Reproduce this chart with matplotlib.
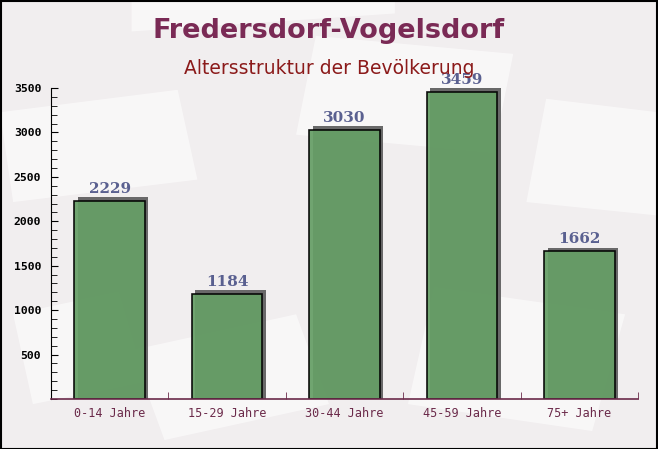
import matplotlib
matplotlib.use("Agg")
import matplotlib.pyplot as plt
from matplotlib.patches import Rectangle, Polygon
from matplotlib.ticker import MultipleLocator

# data
age_groups = ["0-14 Jahre", "15-29 Jahre", "30-44 Jahre", "45-59 Jahre", "75+ Jahre"]
population = [2229, 1184, 3030, 3459, 1662]

title = "Fredersdorf-Vogelsdorf"
subtitle = "Altersstruktur der Bevölkerung"

bg = "#f1eeef"
bar_green = "#669f66"
maroon = "#6b2a4a"

fig = plt.figure(figsize=(6.58, 4.49), dpi=100)
fig.patch.set_facecolor(bg)

# faint "envelope" shapes in the background
deco = [
    [(0.02, 0.55), (0.30, 0.60), (0.27, 0.80), (0.00, 0.75)],
    [(0.45, 0.70), (0.75, 0.66), (0.78, 0.88), (0.48, 0.92)],
    [(0.62, 0.10), (0.90, 0.04), (0.95, 0.30), (0.66, 0.36)],
    [(0.25, 0.02), (0.50, 0.10), (0.45, 0.30), (0.20, 0.22)],
    [(0.80, 0.55), (1.00, 0.52), (1.00, 0.75), (0.83, 0.78)],
    [(0.05, 0.10), (0.22, 0.15), (0.18, 0.35), (0.02, 0.30)],
    [(0.20, 0.93), (0.60, 0.97), (0.60, 1.00), (0.20, 1.00)],
]
for pts in deco:
    fig.patches.append(Polygon(pts, closed=True, transform=fig.transFigure,
                               facecolor="white", alpha=0.55, edgecolor="none", zorder=-5))

# outer frame
fig.patches.append(Rectangle((0.001, 0.001), 0.997, 0.997, transform=fig.transFigure,
                             fill=False, edgecolor="black", linewidth=1.5, zorder=10))

ax = fig.add_axes([51 / 658, 1 - 399 / 449, (638 - 51) / 658, (399 - 88) / 449])
ax.set_facecolor("none")

x = list(range(len(age_groups)))
width = 0.6

# shadow bars (offset a few pixels right/up)
dx = 3.5 / 117.4
dy = 3.5 * 3500 / 311
ax.bar([i + dx for i in x], [v + dy for v in population], width=width,
       color="#5a5a5a", alpha=0.9, zorder=1)
ax.bar(x, population, width=width, color=bar_green, alpha=0.93,
       edgecolor="black", linewidth=1.2, zorder=2)

for i, v in zip(x, population):
    ax.text(i, v + 55, str(v), ha="center", va="bottom", fontsize=11,
            fontweight="bold", family="DejaVu Serif", color="#5a6090", zorder=3)

ax.set_xlim(-0.5, len(age_groups) - 0.5)
ax.set_ylim(0, 3500)
ax.yaxis.set_major_locator(MultipleLocator(500))
ax.yaxis.set_minor_locator(MultipleLocator(100))
ax.set_yticks([500, 1000, 1500, 2000, 2500, 3000, 3500])

ax.set_xticks(x)
ax.set_xticklabels(age_groups, family="DejaVu Sans Mono", fontsize=8.5, color=maroon)
ax.set_xticks([i + 0.5 for i in x], minor=True)
ax.tick_params(axis="x", which="major", length=0, pad=6)
ax.tick_params(axis="x", which="minor", length=5, direction="in", color=maroon)
ax.tick_params(axis="y", which="major", length=5, direction="in", color="black",
               labelsize=8.2, pad=7)
ax.tick_params(axis="y", which="minor", length=4, direction="in", color="black")
for lab in ax.get_yticklabels():
    lab.set_family("DejaVu Sans Mono")
    lab.set_fontweight("bold")

for s in ["top", "right"]:
    ax.spines[s].set_visible(False)
ax.spines["left"].set_color("black")
ax.spines["bottom"].set_color(maroon)
ax.spines["bottom"].set_linewidth(1.2)

fig.text(0.5, 1 - 31 / 449, title, ha="center", va="center", fontsize=19.5,
         fontweight="bold", color="#7a2a55")
fig.text(0.5, 1 - 68 / 449, subtitle, ha="center", va="center", fontsize=13.5,
         color="#8b1a1a")

fig.savefig("out.png", dpi=100, facecolor=bg)
